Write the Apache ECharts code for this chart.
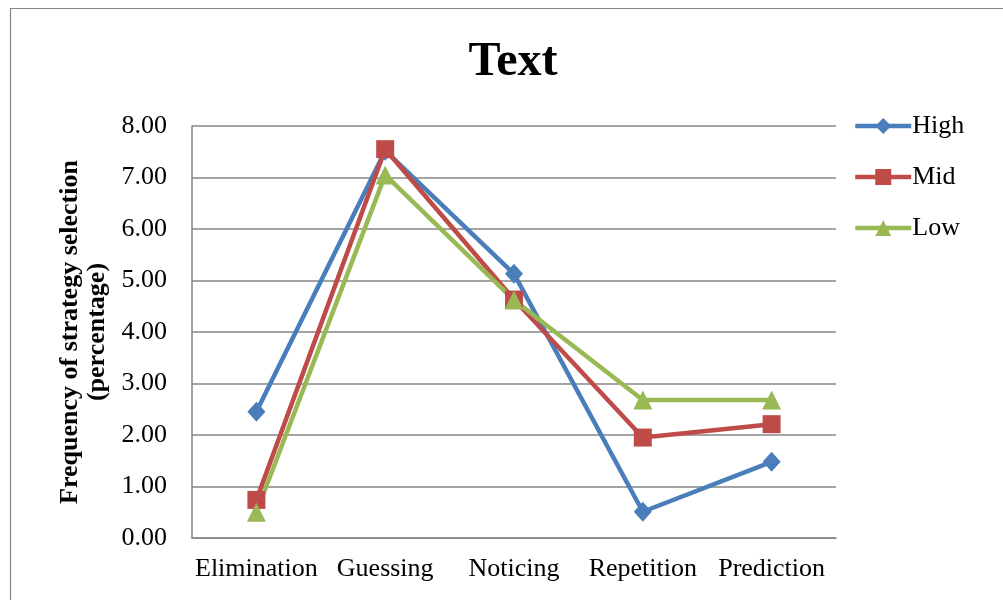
<!DOCTYPE html>
<html>
<head>
<meta charset="utf-8">
<script src="https://cdn.jsdelivr.net/npm/echarts@6/dist/echarts.min.js"></script>
<style>
  html, body { margin: 0; padding: 0; background: #fff; }
  #chart { width: 1003px; height: 600px; }
</style>
</head>
<body>
<div id="chart"></div>
<script>
// Strategy categories and selection frequency (percentage) per proficiency group
const categories = ['Elimination', 'Guessing', 'Noticing', 'Repetition', 'Prediction'];
const highValues = [2.45, 7.52, 5.13, 0.51, 1.48];
const midValues  = [0.74, 7.55, 4.63, 1.95, 2.21];
const lowValues  = [0.50, 7.05, 4.62, 2.68, 2.68];
const seriesNames = ['High', 'Mid', 'Low'];
const yTicks = { min: 0, max: 8, interval: 1 };

const serif = '"Liberation Serif", "Times New Roman", serif';
const gridColor = '#868686';

const chart = echarts.init(document.getElementById('chart'), null, { renderer: 'canvas' });

function lineSeries(name, data, color, symbol, size) {
  return {
    name: name,
    type: 'line',
    data: data,
    symbol: symbol,
    symbolSize: size,
    showAllSymbol: true,
    lineStyle: { color: color, width: 4.5 },
    itemStyle: { color: color },
    emphasis: { disabled: true },
    animation: false
  };
}

chart.setOption({
  animation: false,
  title: {
    text: 'Text',
    left: 508,
    textAlign: 'center',
    top: 34,
    textStyle: { fontFamily: serif, fontSize: 48, fontWeight: 'bold', color: '#000' }
  },
  legend: {
    orient: 'vertical',
    left: 848,
    top: 108,
    itemWidth: 56,
    itemHeight: 20,
    itemGap: 25,
    lineStyle: { width: 4.5 },
    textStyle: { fontFamily: serif, fontSize: 26, color: '#000', padding: [0, 0, 0, -4] },
    data: seriesNames
  },
  grid: { left: 192, top: 126, width: 644, height: 412, containLabel: false },
  xAxis: {
    type: 'category',
    data: categories,
    boundaryGap: true,
    axisLine: { show: true, lineStyle: { color: gridColor, width: 1.5 } },
    axisTick: { show: false },
    axisLabel: { fontFamily: serif, fontSize: 26, color: '#000', margin: 18, interval: 0 }
  },
  yAxis: {
    type: 'value',
    min: yTicks.min,
    max: yTicks.max,
    interval: yTicks.interval,
    name: 'Frequency of strategy selection\n(percentage)',
    nameLocation: 'middle',
    nameGap: 80,
    nameTextStyle: { fontFamily: serif, fontSize: 26, fontWeight: 'bold', color: '#000', lineHeight: 27 },
    axisLine: { show: true, lineStyle: { color: gridColor, width: 1.5 } },
    axisTick: { show: false },
    axisLabel: {
      fontFamily: serif, fontSize: 26, color: '#000', margin: 25,
      formatter: v => v.toFixed(2)
    },
    splitLine: { show: true, lineStyle: { color: gridColor, width: 1.5 } }
  },
  series: [
    lineSeries('High', highValues, '#4A7EBB', 'diamond', [18, 20]),
    lineSeries('Mid', midValues, '#BE4B48', 'rect', 18),
    lineSeries('Low', lowValues, '#98B954', 'triangle', 19)
  ],
  graphic: [{
    type: 'rect',
    shape: { x: 10.5, y: 8.5, width: 1000, height: 620 },
    style: { fill: 'none', stroke: gridColor, lineWidth: 1.2 },
    silent: true
  }]
});
</script>
</body>
</html>
